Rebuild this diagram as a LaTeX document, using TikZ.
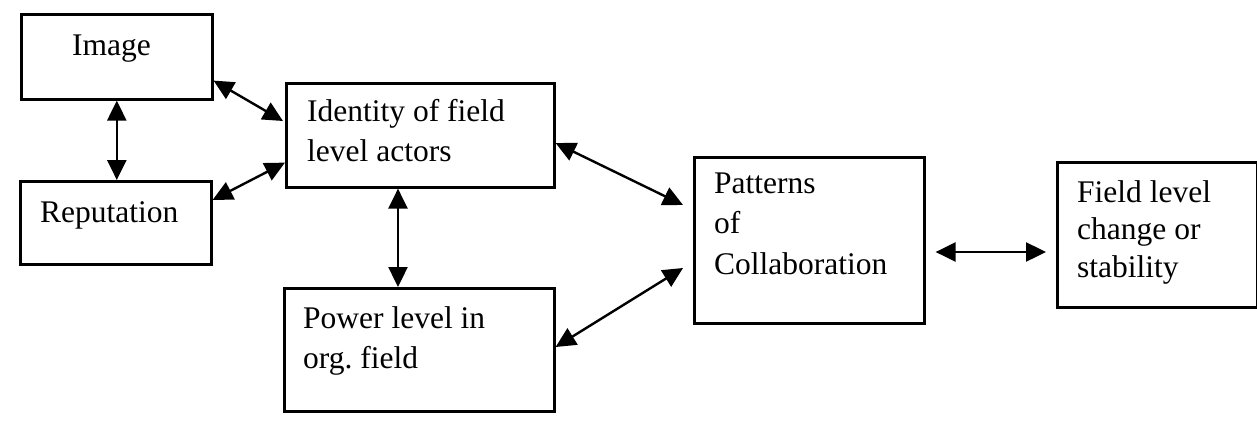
\documentclass[tikz,border=0pt]{standalone}
\usepackage{fontspec}
\setmainfont{Liberation Serif}
\usetikzlibrary{arrows.meta}
\begin{document}
\begin{tikzpicture}[x=1pt,y=-1pt,
  box/.style={draw,line width=2.6pt,rectangle,inner sep=0pt,anchor=north west},
  txt/.style={anchor=base west,align=left,inner sep=0pt,font=\fontsize{31.5}{39.5}\selectfont},
  dbl/.style={line width=2.4pt,{Triangle[length=20pt,width=19pt]}-{Triangle[length=20pt,width=19pt]}}]
\useasboundingbox (0,0) rectangle (1257,426);
% boxes
\node[box,minimum width=191pt,minimum height=85pt] (img) at (20,13) {};
\node[box,minimum width=191pt,minimum height=83pt] (rep) at (19,180) {};
\node[box,minimum width=268pt,minimum height=104pt] (idn) at (285,82) {};
\node[box,minimum width=270pt,minimum height=123pt] (pow) at (283,287) {};
\node[box,minimum width=230pt,minimum height=166pt] (pat) at (693,156) {};
\node[box,minimum width=200pt,minimum height=145pt] (fld) at (1056,161) {};
% texts (anchored at the baseline of the last line)
\node[txt] (imgT) at (72,55) {Image};
\node[txt] (repT) at (40,222) {Reputation};
\node[txt] (idnT) at (307,161) {Identity of field\\level actors};
\node[txt] (powT) at (303,368) {Power level in\\org.\ field};
\node[txt,font=\fontsize{31.5}{40.5}\selectfont] (patT) at (714,274) {Patterns\\of\\Collaboration};
\node[txt,font=\fontsize{31.5}{37.5}\selectfont] (fldT) at (1077,277) {Field level\\change or\\stability};
% connector end points
\coordinate (a1) at ([yshift=20pt]img.south east);
\coordinate (a2) at ([xshift=-2pt,yshift=-39pt]idn.north west);
\coordinate (b1) at ([yshift=-20pt]rep.north east);
\coordinate (b2) at ([yshift=26pt]idn.south west);
\coordinate (c1) at ([xshift=113pt]idn.south west);
\coordinate (d1) at ([yshift=-61pt]idn.north east);
\coordinate (d2) at ([xshift=-10pt,yshift=-49pt]pat.north west);
\coordinate (e1) at ([yshift=-60pt]pow.north east);
\coordinate (e2) at ([xshift=-10pt,yshift=-112pt]pat.north west);
\coordinate (f1) at ([xshift=10pt,yshift=-96pt]pat.north east);
\coordinate (f2) at ([xshift=-10pt]f1 -| fld.west);
% connectors
\draw[dbl] (img.south) -- (img.south |- rep.north);
\draw[dbl] (a1) -- (a2);
\draw[dbl] (b1) -- (b2);
\draw[dbl] (c1) -- (c1 |- pow.north);
\draw[dbl] (d1) -- (d2);
\draw[dbl] (e1) -- (e2);
\draw[dbl] (f1) -- (f2);
\end{tikzpicture}
\end{document}
